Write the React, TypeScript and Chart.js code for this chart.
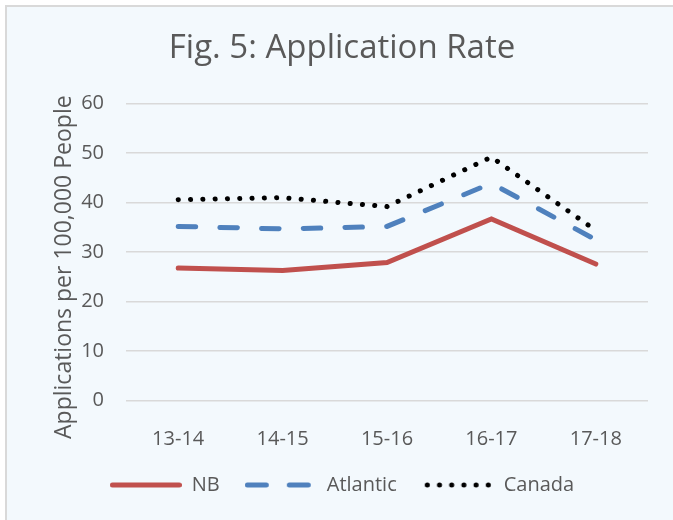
import React, { useEffect, useRef } from "react";
import { Chart, registerables } from "chart.js";

Chart.register(...registerables);

// ---- data ----
const categories = ["13-14", "14-15", "15-16", "16-17", "17-18"];
const nbValues = [26.8, 26.3, 27.9, 36.7, 27.6];
const atlanticValues = [35.2, 34.7, 35.2, 43.9, 32.5];
const canadaValues = [40.6, 41.0, 39.2, 49.2, 34.4];
const yTicks = [0, 10, 20, 30, 40, 50, 60];
const seriesNames = ["NB", "Atlantic", "Canada"];
const chartTitle = "Fig. 5: Application Rate";
const yAxisTitle = "Applications per 100,000 People";

const FONT = "'Open Sans', sans-serif";
const TEXT = "#595959";
const RED = "#C0504D";
const BLUE = "#4F81BD";
const BLACK = "#000000";
const GRID = "#D9D9D9";

function makeSample(color: string, dash: number[], start: number, end: number) {
  const c = document.createElement("canvas");
  c.width = 72;
  c.height = 10;
  const g = c.getContext("2d")!;
  g.strokeStyle = color;
  g.lineWidth = 5;
  g.lineCap = "round";
  g.setLineDash(dash);
  g.beginPath();
  g.moveTo(start, 5);
  g.lineTo(end, 5);
  g.stroke();
  return c;
}

const yTitlePlugin = {
  id: "yTitleCustom",
  afterDraw(chart: any) {
    const { ctx, chartArea } = chart;
    const s = chart.scales.y;
    ctx.save();
    ctx.translate(s.left + 57, (chartArea.top + chartArea.bottom) / 2 + 15);
    ctx.rotate(-Math.PI / 2);
    ctx.font = `23px ${FONT}`;
    ctx.fillStyle = TEXT;
    ctx.textAlign = "center";
    ctx.textBaseline = "middle";
    ctx.fillText(yAxisTitle, 0, 0);
    ctx.restore();
  },
};

export default function App() {
  const ref = useRef<HTMLCanvasElement | null>(null);

  useEffect(() => {
    let chart: Chart | null = null;
    let cancelled = false;
    const build = () => {
      if (cancelled || !ref.current) return;
      const samples = [
        makeSample(RED, [], 2.5, 69.5),
        makeSample(BLUE, [19, 23], 2.5, 69.5),
        makeSample(BLACK, [0.1, 12.1], 5.5, 67),
      ];
      const colors = [RED, BLUE, BLACK];
      chart = new Chart(ref.current, {
        type: "line",
        data: {
          labels: categories,
          datasets: [
            {
              label: seriesNames[0],
              data: nbValues,
              borderColor: RED,
              backgroundColor: RED,
              borderWidth: 5,
              pointRadius: 0,
              tension: 0,
              borderCapStyle: "round",
            },
            {
              label: seriesNames[1],
              data: atlanticValues,
              borderColor: BLUE,
              backgroundColor: BLUE,
              borderWidth: 5,
              pointRadius: 0,
              tension: 0,
              borderDash: [17.5, 24.2],
              borderCapStyle: "round",
            },
            {
              label: seriesNames[2],
              data: canadaValues,
              borderColor: BLACK,
              backgroundColor: BLACK,
              borderWidth: 5,
              pointRadius: 0,
              tension: 0,
              borderDash: [0.1, 12.2],
              borderCapStyle: "round",
            },
          ],
        },
        options: {
          animation: false,
          responsive: false,
          maintainAspectRatio: false,
          layout: { padding: { left: 0, right: 0, top: 0, bottom: 15 } },
          plugins: {
            title: {
              display: true,
              text: chartTitle,
              color: TEXT,
              font: { family: FONT, size: 33, weight: "normal" },
              padding: { top: 22, bottom: 35 },
            },
            legend: {
              display: true,
              position: "bottom",
              labels: {
                usePointStyle: true,
                pointStyleWidth: 72,
                padding: 25,
                color: TEXT,
                font: { family: FONT, size: 20 },
                generateLabels: () =>
                  seriesNames.map((name, i) => ({
                    text: name,
                    pointStyle: samples[i] as any,
                    fillStyle: colors[i],
                    strokeStyle: colors[i],
                    lineWidth: 0,
                    hidden: false,
                    datasetIndex: i,
                    fontColor: TEXT,
                  })),
              },
            },
            tooltip: { enabled: false },
          },
          scales: {
            x: {
              offset: true,
              grid: { display: false, offset: true },
              border: { display: false },
              ticks: {
                color: TEXT,
                font: { family: FONT, size: 20 },
                padding: 19,
                maxRotation: 0,
              },
              afterFit: (s: any) => {
                s.height = 49.3;
              },
            },
            y: {
              min: yTicks[0],
              max: yTicks[yTicks.length - 1],
              grid: { color: GRID, lineWidth: 1.5, drawTicks: false },
              border: { display: false },
              ticks: {
                stepSize: yTicks[1] - yTicks[0],
                color: TEXT,
                font: { family: FONT, size: 20 },
                padding: 22,
              },
              afterFit: (s: any) => {
                s.width = 119;
              },
            },
            yR: {
              type: "linear",
              position: "right",
              display: true,
              grid: { display: false },
              border: { display: false },
              ticks: { display: false },
              afterFit: (s: any) => {
                s.width = 29;
              },
            },
          },
        },
        plugins: [yTitlePlugin],
      } as any);
    };
    const fontsReady = (document as any).fonts
      ? Promise.all([
          (document as any).fonts.load(`20px 'Open Sans'`),
          (document as any).fonts.load(`33px 'Open Sans'`),
        ]).catch(() => null)
      : Promise.resolve(null);
    fontsReady.then(build);
    return () => {
      cancelled = true;
      if (chart) chart.destroy();
    };
  }, []);

  return (
    <div
      style={{
        position: "fixed",
        left: 0,
        top: 0,
        width: 673,
        height: 520,
        background: "#ffffff",
        overflow: "hidden",
      }}
    >
      <div
        style={{
          position: "absolute",
          left: 5,
          top: 5,
          width: 720,
          height: 560,
          border: "2px solid #D9D9D9",
          background: "#F3F9FD",
        }}
      >
        <canvas
          ref={ref}
          width={670}
          height={513}
          style={{ display: "block", width: 670, height: 513 }}
        />
      </div>
    </div>
  );
}
